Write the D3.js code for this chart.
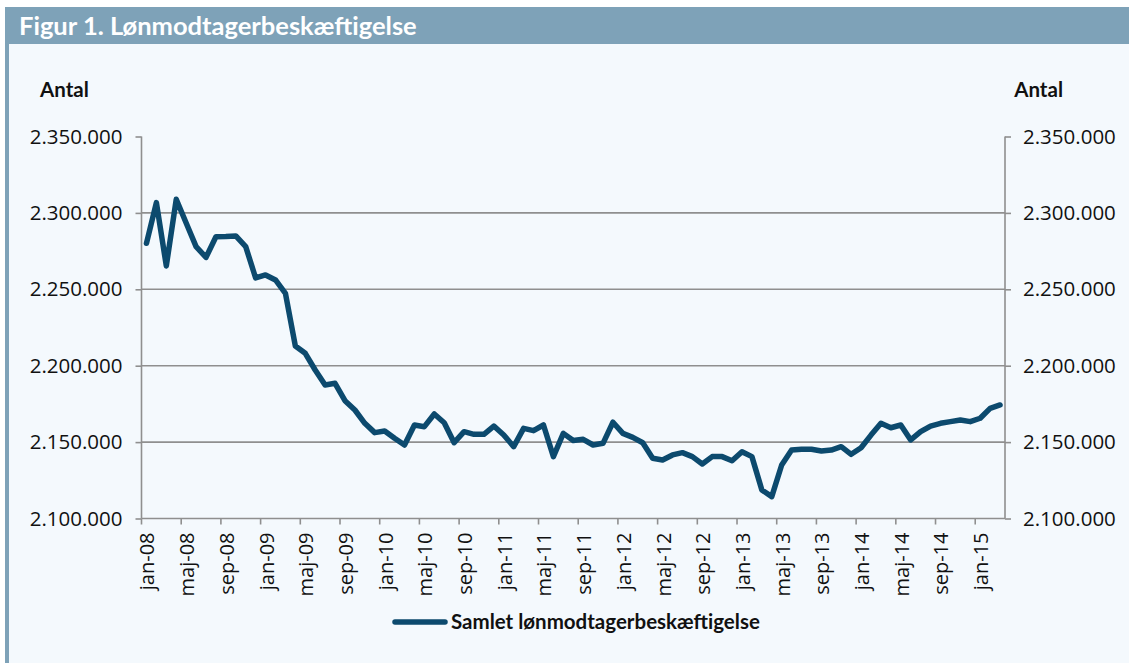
<!DOCTYPE html>
<html>
<head>
<meta charset="utf-8">
<script src="https://cdn.jsdelivr.net/npm/d3@7"></script>
<style>
  body { margin: 0; background: #ffffff; }
  svg { display: block; }
</style>
</head>
<body>
<svg id="chart" width="1129" height="663"></svg>
<script>
const width = 1129;
const height = 663;

// month categories jan-08 .. mar-15
const months = [
  "jan-08","feb-08","mar-08","apr-08","maj-08","jun-08","jul-08","aug-08","sep-08","okt-08","nov-08","dec-08",
  "jan-09","feb-09","mar-09","apr-09","maj-09","jun-09","jul-09","aug-09","sep-09","okt-09","nov-09","dec-09",
  "jan-10","feb-10","mar-10","apr-10","maj-10","jun-10","jul-10","aug-10","sep-10","okt-10","nov-10","dec-10",
  "jan-11","feb-11","mar-11","apr-11","maj-11","jun-11","jul-11","aug-11","sep-11","okt-11","nov-11","dec-11",
  "jan-12","feb-12","mar-12","apr-12","maj-12","jun-12","jul-12","aug-12","sep-12","okt-12","nov-12","dec-12",
  "jan-13","feb-13","mar-13","apr-13","maj-13","jun-13","jul-13","aug-13","sep-13","okt-13","nov-13","dec-13",
  "jan-14","feb-14","mar-14","apr-14","maj-14","jun-14","jul-14","aug-14","sep-14","okt-14","nov-14","dec-14",
  "jan-15","feb-15","mar-15"
];

// Samlet lønmodtagerbeskæftigelse (antal)
const employment = [
  2280100, 2306700, 2265300, 2308900, 2293400, 2277900, 2270900, 2284400, 2284500, 2284900, 2277900, 2257400,
  2259400, 2256100, 2247400, 2212900, 2208100, 2197200, 2187400, 2188500, 2177100, 2171000, 2162300, 2156200,
  2157300, 2152500, 2148100, 2161200, 2160100, 2168400, 2162700, 2149600, 2156800, 2155100, 2155100, 2160500,
  2154600, 2147000, 2159000, 2157500, 2161200, 2140500, 2155700, 2151000, 2151800, 2148100, 2149200, 2163000,
  2155700, 2153100, 2149600, 2139400, 2138300, 2141600, 2143100, 2140500, 2135700, 2140500, 2140500, 2137800,
  2143700, 2140500, 2118700, 2114300, 2135000, 2144800, 2145300, 2145300, 2144200, 2144800, 2147000, 2142000,
  2146300, 2154600, 2162300, 2159400, 2161200, 2151400, 2156800, 2160500, 2162300, 2163400, 2164500, 2163400,
  2165600, 2172100, 2174300
];

const yTicks = [2100000, 2150000, 2200000, 2250000, 2300000, 2350000];

const title = "Figur 1. Lønmodtagerbeskæftigelse";
const axisTitle = "Antal";
const seriesName = "Samlet lønmodtagerbeskæftigelse";

const lineColor = "#0c4a6e";
const gridColor = "#8f8f8f";
const tickFont = "'Open Sans', sans-serif";
const boldFont = "Lato, 'Open Sans', sans-serif";
const fmt = d3.formatLocale({ decimal: ",", thousands: ".", grouping: [3], currency: ["", " kr"] }).format(",.0f");

const plot = { left: 141.5, right: 1005, top: 136.5, bottom: 518.5 };

const svg = d3.select("#chart");

// background panel
svg.append("rect").attr("x", 5).attr("y", 7).attr("width", width - 5).attr("height", height - 7).attr("fill", "#f4f9fd");
svg.append("rect").attr("x", 5).attr("y", 7).attr("width", width - 5).attr("height", 37).attr("fill", "#7ea2b8");
svg.append("rect").attr("x", 5).attr("y", 44).attr("width", 4).attr("height", height - 44).attr("fill", "#7ea2b8");

svg.append("text")
  .attr("x", 19).attr("y", 35)
  .attr("font-family", boldFont)
  .attr("font-weight", "bold")
  .attr("font-size", 25.5)
  .attr("fill", "#ffffff")
  .text(title);

const x = d3.scaleBand().domain(months).range([plot.left, plot.right]).padding(0);
const y = d3.scaleLinear().domain([2100000, 2350000]).range([plot.bottom, plot.top]);

// gridlines
svg.append("g").selectAll("line")
  .data(yTicks.slice(1, -1))
  .enter().append("line")
  .attr("x1", plot.left).attr("x2", plot.right)
  .attr("y1", d => y(d)).attr("y2", d => y(d))
  .attr("stroke", gridColor).attr("stroke-width", 1.6);

// left and right value axes
const leftAxis = svg.append("g")
  .attr("transform", `translate(${plot.left},0)`)
  .call(d3.axisLeft(y).tickValues(yTicks).tickFormat(fmt).tickSize(6).tickPadding(13));
const rightAxis = svg.append("g")
  .attr("transform", `translate(${plot.right},0)`)
  .call(d3.axisRight(y).tickValues(yTicks).tickFormat(fmt).tickSize(6).tickPadding(12));

[leftAxis, rightAxis].forEach(a => {
  a.select(".domain").attr("stroke", gridColor).attr("stroke-width", 1.6)
    .attr("d", `M0,${plot.top}V${plot.bottom}`);
  a.selectAll(".tick line").attr("stroke", gridColor).attr("stroke-width", 1.6);
  a.selectAll(".tick text")
    .attr("font-family", tickFont)
    .attr("font-size", 20.5)
    .attr("fill", "#111");
});

// bottom axis (ticks between categories, label every 4th month)
const tickIdx = d3.range(0, months.length, 4);
const xAxisG = svg.append("g");
xAxisG.append("line")
  .attr("x1", plot.left).attr("x2", plot.right)
  .attr("y1", plot.bottom).attr("y2", plot.bottom)
  .attr("stroke", gridColor).attr("stroke-width", 1.6);
xAxisG.selectAll("line.tk")
  .data(tickIdx)
  .enter().append("line")
  .attr("class", "tk")
  .attr("x1", i => x(months[i])).attr("x2", i => x(months[i]))
  .attr("y1", plot.bottom).attr("y2", plot.bottom + 6)
  .attr("stroke", gridColor).attr("stroke-width", 1.6);
xAxisG.selectAll("text")
  .data(tickIdx)
  .enter().append("text")
  .attr("transform", i => `translate(${x(months[i]) + x.bandwidth() / 2 + 1},${plot.bottom + 14}) rotate(-90)`)
  .attr("text-anchor", "end")
  .attr("dy", "0.35em")
  .attr("font-family", tickFont)
  .attr("font-size", 20)
  .attr("fill", "#111")
  .text(i => months[i]);

// axis titles
[[40, "start"], [1063, "end"]].forEach(([tx, anchor]) => {
  svg.append("text")
    .attr("x", tx).attr("y", 97)
    .attr("text-anchor", anchor)
    .attr("font-family", boldFont)
    .attr("font-weight", "bold")
    .attr("font-size", 20.5)
    .attr("fill", "#111")
    .text(axisTitle);
});

// series line
const line = d3.line()
  .x((d, i) => x(months[i]) + x.bandwidth() / 2)
  .y(d => y(d));

svg.append("path")
  .datum(employment)
  .attr("d", line)
  .attr("fill", "none")
  .attr("stroke", lineColor)
  .attr("stroke-width", 5.5)
  .attr("stroke-linejoin", "round")
  .attr("stroke-linecap", "round");

// legend
svg.append("line")
  .attr("x1", 395).attr("x2", 445)
  .attr("y1", 622).attr("y2", 622)
  .attr("stroke", lineColor).attr("stroke-width", 5.5).attr("stroke-linecap", "round");
svg.append("text")
  .attr("x", 451).attr("y", 629)
  .attr("font-family", boldFont)
  .attr("font-weight", "bold")
  .attr("font-size", 20.5)
  .attr("fill", "#111")
  .text(seriesName);
</script>
</body>
</html>
